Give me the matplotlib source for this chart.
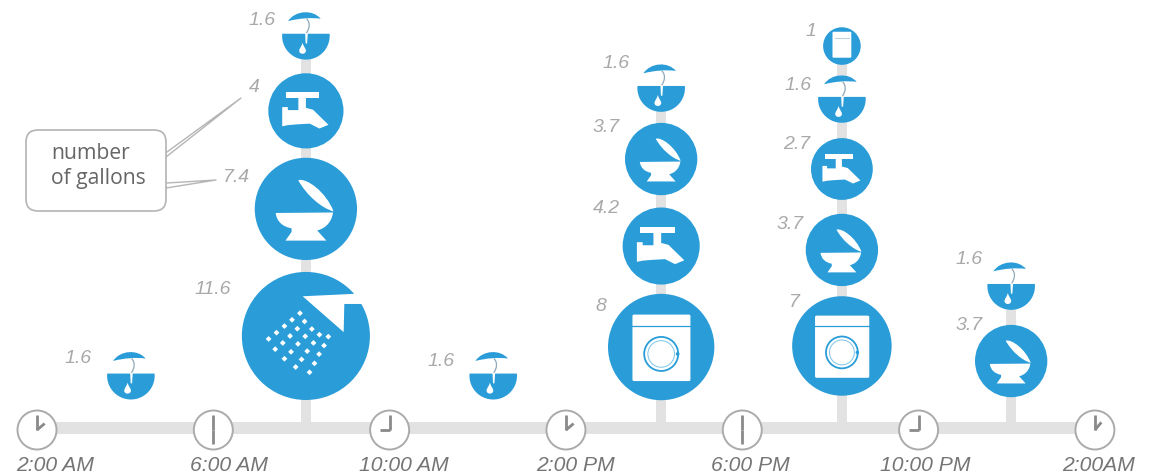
import numpy as np
import matplotlib
matplotlib.use('Agg')
import matplotlib.pyplot as plt
from matplotlib.patches import Circle, FancyBboxPatch, PathPatch, Rectangle
from matplotlib.path import Path
from matplotlib.transforms import Affine2D

# data: hours after 2:00 AM, gallons and fixture per stack (listed bottom to top)
clock_labels = ['2:00 AM', '6:00 AM', '10:00 AM', '2:00 PM', '6:00 PM', '10:00 PM', '2:00AM']
clock_hours = [0, 4, 8, 12, 16, 20, 24]
event_hours = [2.13, 6.10, 10.35, 14.16, 18.26, 22.10]
event_gallons = [
    [1.6],
    [11.6, 7.4, 4, 1.6],
    [1.6],
    [8, 4.2, 3.7, 1.6],
    [7, 3.7, 2.7, 1.6, 1],
    [3.7, 1.6],
]
event_labels = [
    ['1.6'],
    ['11.6', '7.4', '4', '1.6'],
    ['1.6'],
    ['8', '4.2', '3.7', '1.6'],
    ['7', '3.7', '2.7', '1.6', '1'],
    ['3.7', '1.6'],
]
event_icons = [
    ['sink'],
    ['shower', 'toilet', 'faucet', 'sink'],
    ['sink'],
    ['washer', 'faucet', 'toilet', 'sink'],
    ['washer', 'toilet', 'faucet', 'sink', 'box'],
    ['toilet', 'sink'],
]

# layout, in pixels
stack_bottom = [400.5, 401, 400.5, 401.2, 396.7, 398.2]
stack_gaps = [[], [11.9, 9.3, 13.6], [], [9.3, 12.3, 11], [10.1, 13.9, 15.3, 10.4], [15]]
label_offsets = [
    [(-53, -19)],
    [(-93, -48), (-69, -33), (-52, -25), (-44, -17)],
    [(-52, -16)],
    [(-60, -43), (-55, -40), (-55, -34), (-45, -27)],
    [(-47, -45), (-52, -27), (-45, -27), (-44, -16), (-31, -17)],
    [(-42, -38), (-42, -29)],
]
clock_label_dx = [18, 16, 14, 10, 8, 7, 4]
hour_hand_angle = [50, 180, 270, 50, 180, 270, 40]

BLUE = '#2a9dd9'
GREY_BAR = '#e2e2e2'
X0, PX_PER_HOUR = 37, 44.08
AXIS_Y = 429
RADIUS_K = 18.8

plt.rcParams['font.family'] = ['Liberation Sans', 'DejaVu Sans']

fig = plt.figure(figsize=(11.52, 4.77), dpi=100)
ax = fig.add_axes([0, 0, 1, 1])
ax.set_xlim(0, 1152)
ax.set_ylim(477, 0)
ax.axis('off')


def hour_x(h):
    return X0 + h * PX_PER_HOUR


def add_shape(cx, cy, r, verts, codes=None, color='white', z=4, **kw):
    path = Path(verts, codes).transformed(Affine2D().scale(r).translate(cx, cy))
    ax.add_patch(PathPatch(path, facecolor=color, edgecolor='none', zorder=z, **kw))


def add_drop(cx, cy, r, x, y, w, h):
    M, C = Path.MOVETO, Path.CURVE4
    verts = [(x, y - h), (x + w * 0.3, y - h * 0.3), (x + w, y), (x + w, y + h * 0.4),
             (x + w, y + h * 1.1), (x - w, y + h * 1.1), (x - w, y + h * 0.4),
             (x - w, y), (x - w * 0.3, y - h * 0.3), (x, y - h)]
    add_shape(cx, cy, r, verts, [M] + [C] * 9)


def draw_sink(cx, cy, r):
    # white disc hides the stem, then a lower segment and an upper cap
    ax.add_patch(Circle((cx, cy), r, fc='white', ec='none', zorder=3))
    t = np.linspace(np.arcsin(-0.09), np.pi - np.arcsin(-0.09), 60)
    add_shape(cx, cy, r, np.column_stack([np.cos(t), np.sin(t)]), color=BLUE, z=4)
    M, C = Path.MOVETO, Path.CURVE4
    add_shape(cx, cy, r, [(-0.75, -0.62), (-0.45, -1.08), (0.3, -1.12), (0.62, -0.72),
                          (0.25, -0.78), (-0.3, -0.74), (-0.75, -0.62)],
              [M, C, C, C, C, C, C], color=BLUE, z=4)
    add_shape(cx, cy, r, [(-0.03, -0.12), (0.08, -0.12), (0.05, 0.32), (-0.01, 0.32)], z=5)
    add_drop(cx, cy, r, -0.14, 0.53, 0.14, 0.24)
    ax.add_patch(PathPatch(
        Path([(0.03, -0.72), (0.2, -0.55), (0.15, -0.3), (0.02, -0.12)],
             [M, C, C, C]).transformed(Affine2D().scale(r).translate(cx, cy)),
        fc='none', ec='#8fa9b8', lw=0.9, zorder=5))


def draw_faucet(cx, cy, r):
    add_shape(cx, cy, r, [(-0.54, -0.49), (0.35, -0.49), (0.35, -0.34), (-0.54, -0.34)])
    add_shape(cx, cy, r, [(-0.2, -0.34), (0.0, -0.34), (0.0, -0.08), (0.19, -0.03),
                          (0.6, 0.37), (0.36, 0.47), (0.1, 0.34),
                          (-0.25, 0.36), (-0.48, 0.38), (-0.63, 0.41), (-0.63, -0.1),
                          (-0.48, -0.1), (-0.48, -0.02), (-0.2, -0.02)])


def draw_toilet(cx, cy, r):
    M, C, L = Path.MOVETO, Path.CURVE4, Path.LINETO
    add_shape(cx, cy, r, [(-0.15, -0.56), (0.0, -0.62), (0.4, -0.33), (0.54, 0.05),
                          (0.3, -0.02), (0.02, -0.26), (-0.15, -0.56)],
              [M, C, C, C, C, C, C])
    add_shape(cx, cy, r, [(-0.59, 0.08), (0.53, 0.07), (0.5, 0.3), (0.33, 0.4), (0.22, 0.42),
                          (0.4, 0.62), (-0.4, 0.62), (-0.28, 0.45), (-0.28, 0.38),
                          (-0.45, 0.35), (-0.57, 0.25), (-0.59, 0.08)],
              [M, L, C, C, C, L, L, L, L, C, C, C])


def draw_shower(cx, cy, r):
    add_shape(cx, cy, r, [(-0.05, -0.62), (0.8, -0.66), (0.98, -0.5), (0.6, -0.5), (0.59, -0.06)])
    dots = [(357, 163), (333, 183), (371, 188), (310, 202), (349, 210), (393, 211), (286, 222),
            (327, 232), (373, 233), (416, 228), (443, 234), (262, 241), (305, 253), (351, 256),
            (398, 253), (430, 261), (282, 272), (330, 280), (379, 278), (415, 287), (310, 301),
            (362, 303), (401, 315), (344, 326), (386, 342)]
    for dx, dy in dots:
        x, y = (dx - 375) / 194, (dy - 232) / 194
        d = 0.045
        add_shape(cx, cy, r, [(x, y - d), (x + d, y), (x, y + d), (x - d, y)])


def rounded_rect(x0, y0, w, h, r, cx, cy, pad):
    ax.add_patch(FancyBboxPatch((cx + x0 * r + pad, cy + y0 * r + pad),
                                w * r - 2 * pad, h * r - 2 * pad,
                                boxstyle='round,pad=%g,rounding_size=%g' % (pad, pad),
                                fc='white', ec='none', zorder=4))


def draw_washer(cx, cy, r):
    rounded_rect(-0.54, -0.61, 1.09, 1.25, r, cx, cy, 1.5)
    ax.plot([cx - 0.54 * r, cx + 0.55 * r], [cy - 0.4 * r] * 2, color=BLUE, lw=0.9, zorder=5)
    ax.add_patch(Circle((cx, cy + 0.13 * r), 0.32 * r, fc='none', ec=BLUE, lw=1.3, zorder=5))
    ax.add_patch(Circle((cx, cy + 0.13 * r), 0.25 * r, fc='none', ec='#7cc3e8', lw=0.7, zorder=5))
    ax.add_patch(Circle((cx + 0.31 * r, cy + 0.13 * r), 0.035 * r, fc=BLUE, ec='none', zorder=5))


def draw_box(cx, cy, r):
    rounded_rect(-0.5, -0.76, 1.0, 1.38, r, cx, cy, 1)
    ax.plot([cx - 0.38 * r, cx + 0.38 * r], [cy - 0.42 * r] * 2, color='#a9c9dc', lw=0.6, zorder=5)


ICONS = {'sink': draw_sink, 'faucet': draw_faucet, 'toilet': draw_toilet,
         'shower': draw_shower, 'washer': draw_washer, 'box': draw_box}

# time axis
ax.add_patch(Rectangle((hour_x(0), AXIS_Y - 6), hour_x(24) - hour_x(0), 12,
                       fc=GREY_BAR, ec='none', zorder=1))

# stacks
for i, hour in enumerate(event_hours):
    x = hour_x(hour)
    radii = [RADIUS_K * np.sqrt(g) for g in event_gallons[i]]
    y = stack_bottom[i]
    centres = []
    for j, rad in enumerate(radii):
        centres.append(y - rad)
        gap = stack_gaps[i][j] if j < len(stack_gaps[i]) else 0
        y = y - 2 * rad - gap
    if len(radii) > 1:
        ax.add_patch(Rectangle((x - 5, centres[-1]), 10, AXIS_Y - centres[-1],
                               fc=GREY_BAR, ec='none', zorder=1))
    for j, rad in enumerate(radii):
        cy = centres[j]
        icon = event_icons[i][j]
        if icon != 'sink':
            ax.add_patch(Circle((x, cy), rad, fc=BLUE, ec='none', zorder=3))
        ICONS[icon](x, cy, rad)
        dx, dy = label_offsets[i][j]
        ax.text(x + dx, cy + dy + 1, event_labels[i][j], fontsize=14, style='italic',
                color='#a9a9a9', ha='center', va='center', zorder=6)

# clocks
for i, h in enumerate(clock_hours):
    x = hour_x(h)
    ax.add_patch(Circle((x, AXIS_Y + 2), 19.5, fc='white', ec='#ababab', lw=1.4, zorder=3))
    hub = (x, AXIS_Y + 2)
    ax.plot([hub[0], hub[0]], [hub[1], hub[1] - 15], color='#8a8a8a', lw=2, zorder=4,
            solid_capstyle='butt')
    a = np.radians(hour_hand_angle[i])
    length = 14 if hour_hand_angle[i] == 180 else 10
    ax.plot([hub[0], hub[0] + length * np.sin(a)], [hub[1], hub[1] - length * np.cos(a)],
            color='#8a8a8a', lw=2, zorder=4, solid_capstyle='butt')
    ax.text(x + clock_label_dx[i], 466, clock_labels[i], fontsize=15.2, style='italic',
            color='#757575', ha='center', va='center')

# callout
ax.add_patch(FancyBboxPatch((36, 141), 120, 61, boxstyle='round,pad=10,rounding_size=12',
                            fc='white', ec='#b9b9b9', lw=1.3, zorder=2))
ax.plot([167, 241, 166], [153, 99, 158], color='#b5b5b5', lw=1, zorder=2)
ax.plot([167, 216, 166], [184, 181, 189], color='#b5b5b5', lw=1, zorder=2)
ax.text(51, 154, 'number', fontsize=15.2, color='#666666', family='Open Sans',
        ha='left', va='center', zorder=5)
ax.text(51, 179, 'of gallons', fontsize=15.2, color='#666666', family='Open Sans',
        ha='left', va='center', zorder=5)

fig.savefig('out.png', dpi=100)
